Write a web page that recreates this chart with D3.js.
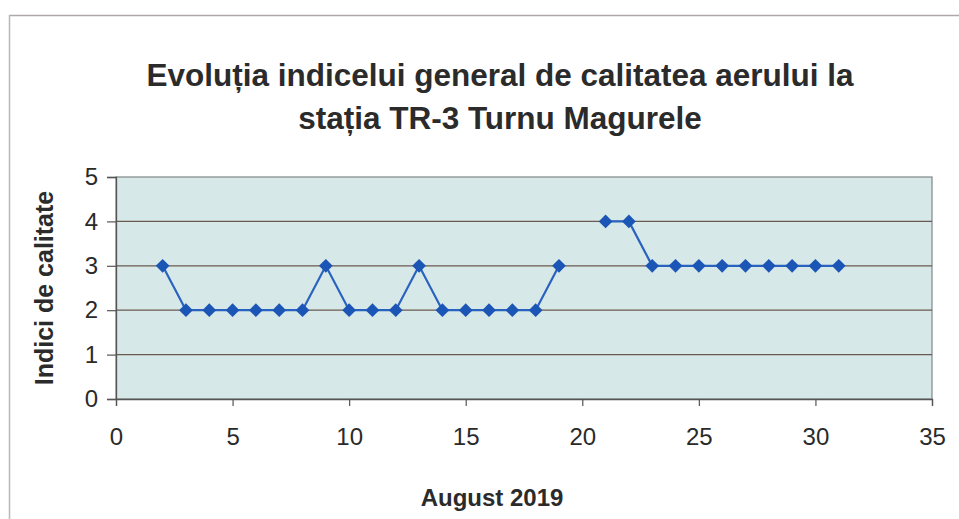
<!DOCTYPE html>
<html>
<head>
<meta charset="utf-8" />
<title>Indice calitate aer TR-3</title>
<style>
  body { margin: 0; background: #fff; }
  text { font-family: Arial, "Liberation Sans", sans-serif; }
</style>
</head>
<body>
<script src="https://d3js.org/d3.v7.min.js"></script>
<script>
// zile din august 2019 si indicele general (ziua 20 lipseste)
var days = [2, 3, 4, 5, 6, 7, 8, 9, 10, 11, 12, 13, 14, 15, 16, 17, 18, 19, 20, 21, 22, 23, 24, 25, 26, 27, 28, 29, 30, 31];
var indexValues = [3, 2, 2, 2, 2, 2, 2, 3, 2, 2, 2, 3, 2, 2, 2, 2, 2, 3, null, 4, 4, 3, 3, 3, 3, 3, 3, 3, 3, 3];
var xTicks = [0, 5, 10, 15, 20, 25, 30, 35];
var yTicks = [0, 1, 2, 3, 4, 5];
var titleLines = ["Evoluția indicelui general de calitatea aerului la", "stația TR-3 Turnu Magurele"];

var width = 959, height = 519;
var margin = {left: 116, right: 27, top: 177, bottom: 120};

var svg = d3.select("body").append("svg")
    .attr("width", width)
    .attr("height", height);

// rama exterioara (doar sus si stanga se vad)
svg.append("line").attr("x1", 9).attr("x2", width).attr("y1", 15.5).attr("y2", 15.5)
    .attr("stroke", "#b0a8a8").attr("stroke-width", 1.5);
svg.append("line").attr("x1", 9.5).attr("x2", 9.5).attr("y1", 15).attr("y2", height)
    .attr("stroke", "#b8b8b8").attr("stroke-width", 1.5);

var x = d3.scaleLinear().domain([0, 35]).range([margin.left, width - margin.right]);
var y = d3.scaleLinear().domain([0, 5]).range([height - margin.bottom, margin.top]);

// fundal zona grafic
svg.append("rect")
    .attr("x", x(0)).attr("y", y(5))
    .attr("width", x(35) - x(0)).attr("height", y(0) - y(5))
    .attr("fill", "#d6e8e7")
    .attr("stroke", "#7f8686").attr("stroke-width", 1.2);

// linii de grila
svg.append("g").selectAll("line")
    .data(yTicks.filter(d => d > 0 && d < 5))
    .enter().append("line")
    .attr("x1", x(0)).attr("x2", x(35))
    .attr("y1", d => y(d)).attr("y2", d => y(d))
    .attr("stroke", "#6a5a50").attr("stroke-width", 1.3);

var yAxis = svg.append("g")
    .attr("transform", "translate(" + x(0) + ",0)")
    .call(d3.axisLeft(y).tickValues(yTicks).tickFormat(d3.format("d")).tickSize(9).tickPadding(9));
var xAxis = svg.append("g")
    .attr("transform", "translate(0," + y(0) + ")")
    .call(d3.axisBottom(x).tickValues(xTicks).tickFormat(d3.format("d")).tickSize(7).tickPadding(22));

[yAxis, xAxis].forEach(function(a) {
    a.select(".domain").attr("stroke", "#555").attr("stroke-width", 1.3);
    a.selectAll(".tick line").attr("stroke", "#555").attr("stroke-width", 1.2);
    a.selectAll(".tick text").attr("fill", "#2a2a2a")
        .style("font-size", "24px")
        .style("font-family", "Arial, 'Liberation Sans', sans-serif");
});

// seria
var points = days.map((d, i) => ({day: d, v: indexValues[i]}));
var line = d3.line()
    .defined(d => d.v != null)
    .x(d => x(d.day))
    .y(d => y(d.v));

svg.append("path")
    .datum(points)
    .attr("d", line)
    .attr("fill", "none")
    .attr("stroke", "#2a62c0")
    .attr("stroke-width", 2.2);

svg.append("g").selectAll("path")
    .data(points.filter(d => d.v != null))
    .enter().append("path")
    .attr("transform", d => "translate(" + x(d.day) + "," + y(d.v) + ")")
    .attr("d", d3.symbol().type(d3.symbolDiamond2).size(120))
    .attr("fill", "#1b55b5");

// titlu
svg.append("g").selectAll("text")
    .data(titleLines)
    .enter().append("text")
    .attr("x", 500)
    .attr("y", (d, i) => 86 + i * 43)
    .attr("text-anchor", "middle")
    .attr("font-weight", "bold")
    .attr("font-size", "31.5px")
    .attr("fill", "#2b2b2b")
    .text(d => d);

svg.append("text")
    .attr("transform", "translate(53,288) rotate(-90)")
    .attr("text-anchor", "middle")
    .attr("font-weight", "bold")
    .attr("font-size", "25px")
    .attr("fill", "#2b2b2b")
    .text("Indici de calitate");

svg.append("text")
    .attr("x", 492)
    .attr("y", 506)
    .attr("text-anchor", "middle")
    .attr("font-weight", "bold")
    .attr("font-size", "24px")
    .attr("fill", "#2b2b2b")
    .text("August 2019");
</script>
</body>
</html>
